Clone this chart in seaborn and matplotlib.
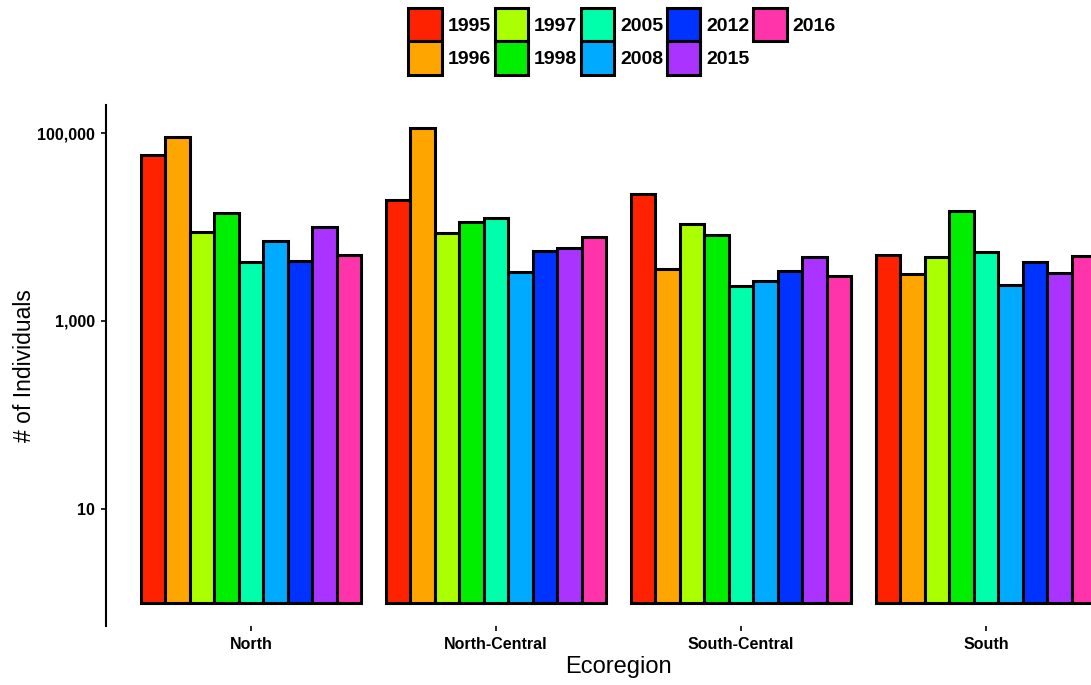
import matplotlib
matplotlib.use("Agg")
import matplotlib.pyplot as plt
import pandas as pd
import seaborn as sns
from matplotlib.patches import Patch
from matplotlib.ticker import FixedLocator, FuncFormatter, NullLocator

# Counts of individuals per ecoregion and survey year
regions = ["North", "North-Central", "South-Central", "South"]
years = ["1995", "1996", "1997", "1998", "2005", "2008", "2012", "2015", "2016"]
north = [58600, 90200, 8830, 14300, 4200, 7170, 4400, 10000, 5070]
north_central = [19400, 113000, 8550, 11400, 12400, 3310, 5600, 5920, 7940]
south_central = [22400, 3600, 10700, 8230, 2330, 2670, 3410, 4790, 2980]
south = [5070, 3150, 4760, 14700, 5400, 2430, 4200, 3210, 4950]
year_colors = ["#FF2200", "#FFA500", "#AAFF00", "#00EE00", "#00FFAA",
               "#00AAFF", "#0033FF", "#AA33FF", "#FF33AA"]
y_ticks = [10, 1000, 100000]

rows = []
for region, values in zip(regions, [north, north_central, south_central, south]):
    for year, value in zip(years, values):
        rows.append({"Ecoregion": region, "Year": year, "Individuals": value})
df = pd.DataFrame(rows)

sns.set_theme(style="white")
plt.rcParams["font.family"] = ["Liberation Sans", "DejaVu Sans"]
plt.rcParams["text.color"] = "black"

fig = plt.figure(figsize=(10.91, 6.85), dpi=100)
ax = fig.add_axes([0.0972, 0.0861, 0.9395, 0.7606])
ax.set_yscale("log")

# Bars rise from 1 on the log axis
sns.barplot(
    data=df, x="Ecoregion", y="Individuals", hue="Year",
    order=regions, hue_order=years, palette=year_colors, saturation=1,
    width=0.9, edgecolor="black", linewidth=2.2, bottom=1,
    errorbar=None, legend=False, ax=ax,
)

ax.set_ylim(0.562, 2.0e5)
ax.set_xlim(-0.592, 3.592)
ax.yaxis.set_major_locator(FixedLocator(y_ticks))
ax.yaxis.set_minor_locator(NullLocator())
ax.yaxis.set_major_formatter(FuncFormatter(lambda v, p: f"{int(round(v)):,}"))

sns.despine(ax=ax, bottom=True)
ax.spines["left"].set_linewidth(1.5)
ax.spines["left"].set_color("black")
ax.tick_params(axis="both", which="major", length=3.6, width=1.2, color="black",
               direction="out", labelsize=11.5, labelcolor="black")
ax.tick_params(axis="x", bottom=True, pad=4.5)
ax.tick_params(axis="y", left=True, pad=4.5)
for lab in ax.get_xticklabels() + ax.get_yticklabels():
    lab.set_fontweight("bold")

ax.set_xlabel("Ecoregion", fontsize=17, color="black", labelpad=3)
ax.set_ylabel("# of Individuals", fontsize=16.5, color="black", labelpad=1)

handles = [Patch(facecolor=c, edgecolor="black", linewidth=2.2) for c in year_colors]
fig.legend(
    handles, years, loc="upper center", bbox_to_anchor=(622 / 1091, 1 - 8 / 685),
    ncol=5, frameon=False, prop={"weight": "bold", "size": 14},
    handlelength=1.72, handleheight=2.27, handletextpad=0.29,
    columnspacing=0.2, labelspacing=0, borderpad=0, borderaxespad=0,
)

fig.savefig("out.png", dpi=100)
